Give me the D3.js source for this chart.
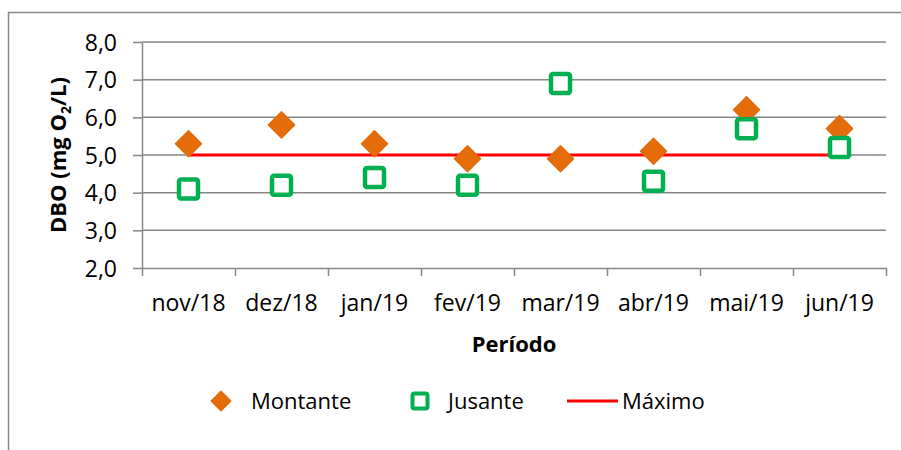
<!DOCTYPE html>
<html>
<head>
<meta charset="utf-8">
<style>
  body { margin: 0; background: #fff; }
  svg text { font-family: "Open Sans", sans-serif; fill: #000; }
  .axis path, .axis line { stroke: #868686; stroke-width: 1.5; }
  .grid line { stroke: #868686; stroke-width: 1.5; }
</style>
<script src="https://cdn.jsdelivr.net/npm/d3@7"></script>
</head>
<body>
<svg id="chart" width="901" height="450"></svg>
<script>
// data
var categories = ['nov/18', 'dez/18', 'jan/19', 'fev/19', 'mar/19', 'abr/19', 'mai/19', 'jun/19'];
var montante = [5.3, 5.8, 5.3, 4.9, 4.9, 5.1, 6.2, 5.7];
var jusante = [4.1, 4.2, 4.4, 4.2, 6.9, 4.3, 5.7, 5.2];
var maximo = [5.0, 5.0, 5.0, 5.0, 5.0, 5.0, 5.0, 5.0];
var yTicks = [2, 3, 4, 5, 6, 7, 8];

var orange = '#E46C0A', green = '#00B050', red = '#FF0000';

var svg = d3.select('#chart');

// outer frame (only left and top show in the picture)
svg.append('path')
    .attr('d', 'M8.5,460 L8.5,12.5 L910,12.5')
    .attr('fill', 'none')
    .attr('stroke', '#888')
    .attr('stroke-width', 1.5);

var pLeft = 142, pRight = 886, pTop = 42, pBottom = 268;

var x = d3.scaleBand().domain(categories).range([pLeft, pRight]);
var y = d3.scaleLinear().domain([2, 8]).range([pBottom, pTop]);
var xEdge = d3.scaleLinear().domain([0, categories.length]).range([pLeft, pRight]);

// gridlines
svg.append('g').attr('class', 'grid')
    .selectAll('line')
    .data(yTicks.slice(1))
    .enter().append('line')
    .attr('x1', pLeft).attr('x2', pRight)
    .attr('y1', d => y(d)).attr('y2', d => y(d));

// y axis
var yAxis = svg.append('g')
    .attr('class', 'axis')
    .attr('transform', 'translate(' + pLeft + ',0)')
    .call(d3.axisLeft(y).tickValues(yTicks).tickSize(9).tickSizeOuter(0).tickPadding(16)
        .tickFormat(d => d3.format('.1f')(d).replace('.', ',')));
yAxis.selectAll('text').style('font-size', '23px').attr('dy', '0.35em');

// x axis: ticks at the band edges
svg.append('g')
    .attr('class', 'axis')
    .attr('transform', 'translate(0,' + pBottom + ')')
    .call(d3.axisBottom(xEdge).ticks(categories.length).tickSize(8).tickSizeOuter(0).tickFormat(''));

// x labels
var xLab = svg.append('g')
    .attr('transform', 'translate(0,' + pBottom + ')')
    .call(d3.axisBottom(x).tickSize(0).tickPadding(27));
xLab.select('.domain').remove();
xLab.selectAll('text').style('font-size', '23px');

// axis titles
svg.append('text')
    .attr('x', (pLeft + pRight) / 2)
    .attr('y', 352)
    .attr('text-anchor', 'middle')
    .style('font-size', '22px')
    .style('font-weight', 'bold')
    .text('Período');

var yt = svg.append('text')
    .attr('transform', 'translate(66,' + ((pTop + pBottom) / 2) + ') rotate(-90)')
    .attr('text-anchor', 'middle')
    .style('font-size', '22px')
    .style('font-weight', 'bold');
yt.append('tspan').text('DBO (mg O');
yt.append('tspan').attr('dy', 5).style('font-size', '14px').text('2');
yt.append('tspan').attr('dy', -5).text('/L)');

var cx = function (d, i) { return x(categories[i]) + x.bandwidth() / 2; };

// Máximo line
var line = d3.line()
    .x((d, i) => cx(d, i))
    .y(d => y(d));
svg.append('path')
    .datum(maximo)
    .attr('d', line)
    .attr('fill', 'none')
    .attr('stroke', red)
    .attr('stroke-width', 3);

// Montante diamonds
var diamond = d3.symbol().type(d3.symbolSquare).size(340);
svg.append('g').selectAll('path')
    .data(montante)
    .enter().append('path')
    .attr('d', diamond)
    .attr('transform', (d, i) => 'translate(' + cx(d, i) + ',' + y(d) + ') rotate(45)')
    .attr('fill', orange)
    .attr('stroke', orange)
    .attr('stroke-width', 1.5)
    .attr('stroke-linejoin', 'round');

// Jusante squares
svg.append('g').selectAll('rect')
    .data(jusante)
    .enter().append('rect')
    .attr('x', (d, i) => cx(d, i) - 9.5)
    .attr('y', d => y(d) - 9.5)
    .attr('width', 19).attr('height', 19)
    .attr('rx', 2)
    .attr('fill', '#fff')
    .attr('stroke', green)
    .attr('stroke-width', 4.5);

// legend
var ly = 401;
var lg = svg.append('g');
lg.append('path')
    .attr('d', d3.symbol().type(d3.symbolSquare).size(190))
    .attr('transform', 'translate(221,' + ly + ') rotate(45)')
    .attr('fill', orange).attr('stroke', orange).attr('stroke-width', 1.5).attr('stroke-linejoin', 'round');
lg.append('text').attr('x', 251).attr('y', ly).attr('dy', '0.35em').style('font-size', '22px').text('Montante');
lg.append('rect')
    .attr('x', 420 - 7.5).attr('y', ly - 7.5).attr('width', 15).attr('height', 15).attr('rx', 2)
    .attr('fill', '#fff').attr('stroke', green).attr('stroke-width', 4);
lg.append('text').attr('x', 448).attr('y', ly).attr('dy', '0.35em').style('font-size', '22px').text('Jusante');
lg.append('line')
    .attr('x1', 567).attr('x2', 618).attr('y1', ly).attr('y2', ly)
    .attr('stroke', red).attr('stroke-width', 3);
lg.append('text').attr('x', 622).attr('y', ly).attr('dy', '0.35em').style('font-size', '22px').text('Máximo');
</script>
</body>
</html>
